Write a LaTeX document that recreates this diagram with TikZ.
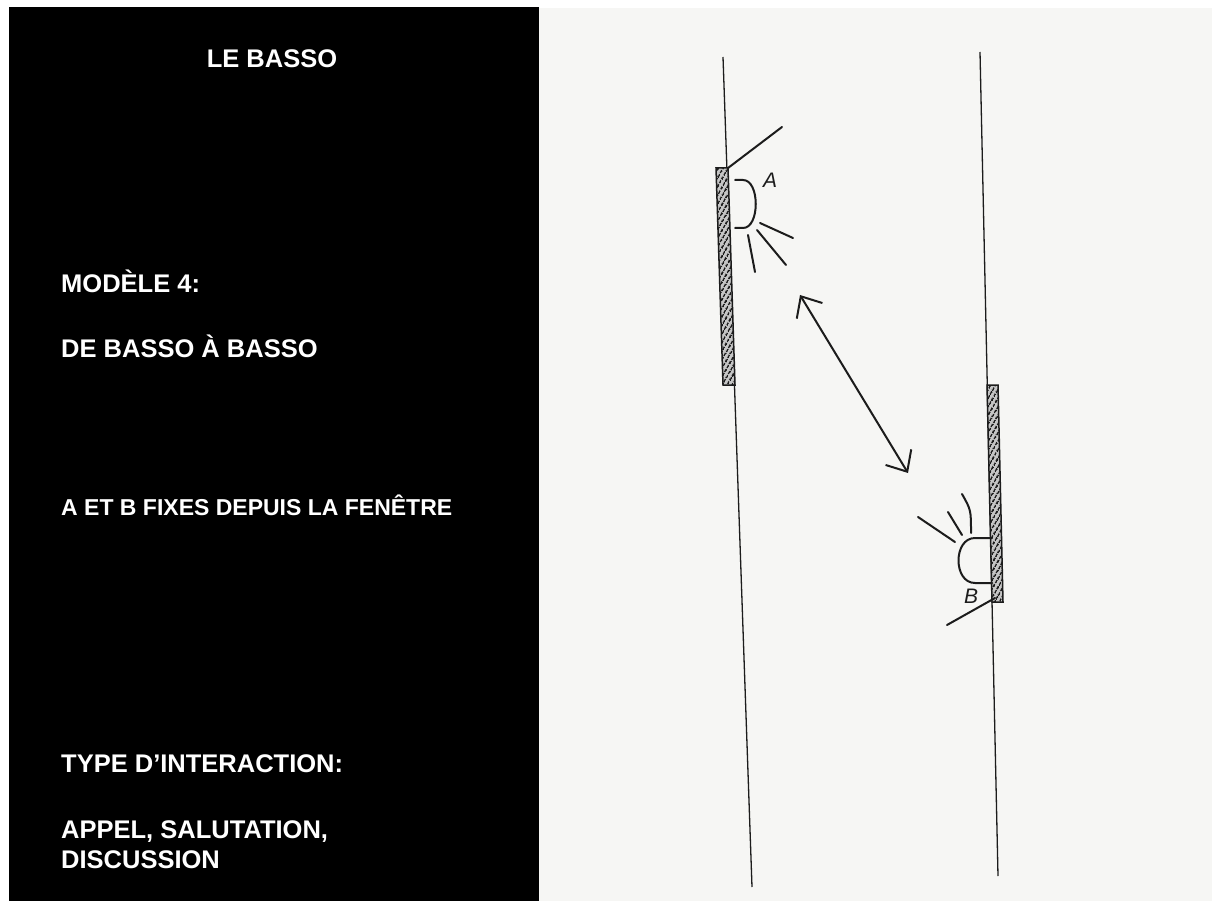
\documentclass[tikz,border=0pt]{standalone}
\usepackage{fontspec}
\setmainfont{Liberation Sans}
\usetikzlibrary{positioning, arrows.meta, patterns.meta}
\definecolor{paper}{RGB}{246,246,244}
\definecolor{ink}{RGB}{28,28,28}
\tikzset{
        panel text/.style={text=white, inner sep=0pt, font=\fontsize{25.5}{30}\selectfont\bfseries}, % white captions on the black panel
        wall/.style={ink, line width=1.3pt}, % the two facades
        pen/.style={ink, line width=2pt, line cap=round, line join=round}, % hand drawn strokes
        window/.style={ink, line width=1.5pt, preaction={fill=gray!45}, pattern={Lines[angle=60, distance=4pt, line width=2pt]}, pattern color=ink}, % hatched window sill
        hand label/.style={ink, inner sep=0pt, font=\fontsize{21}{21}\selectfont\itshape}, % letters A and B
        barb/.tip={Straight Barb[length=17pt, width=30pt]}, % open arrow head
    }
\begin{document}
\begin{tikzpicture}[x=1pt, y=-1pt]
    \useasboundingbox (0,0) rectangle (1215,901);
    \fill[black] (9,7) rectangle (539,901);
    \fill[paper] (539,8) rectangle (1212,901);

    % captions
    \node[panel text, anchor=base] (title) at (272,68) {LE BASSO};
    \node[panel text, anchor=base west] (model) at (61,292) {MODÈLE 4:};
    \node[panel text, below=65pt of model.base west, anchor=base west] (basso) {DE BASSO À BASSO};
    \node[panel text, below=158pt of basso.base west, anchor=base west, font=\fontsize{23}{28}\selectfont\bfseries] (fixed) {A ET B FIXES DEPUIS LA FENÊTRE};
    \node[panel text, below=257pt of fixed.base west, anchor=base west] (type) {TYPE D’INTERACTION:};
    \node[panel text, below=66pt of type.base west, anchor=base west] (appel) {APPEL, SALUTATION,};
    \node[panel text, below=30pt of appel.base west, anchor=base west] (disc) {DISCUSSION};

    % facades
    \coordinate (wallA top) at (723,57);
    \coordinate (wallA bot) at (752,887);
    \coordinate (wallB top) at (980,52);
    \coordinate (wallB bot) at (998,876);
    \draw[wall] (wallA top) -- (wallA bot);
    \draw[wall] (wallB top) -- (wallB bot);

    % windows
    \draw[window] (716,168) -- (728,168) -- (735,385) -- (723,385) -- cycle;
    \draw[window] (987,385) -- (998,385) -- (1003,602) -- (992,602) -- cycle;

    % person A
    \draw[pen] (728,168) -- (782,127);
    \draw[pen] (735,180) -- (743,180) .. controls (760,180) and (760,228) .. (743,228) -- (735,228);
    \draw[pen] (760,223) -- (793,238);
    \draw[pen] (757,230) -- (786,265);
    \draw[pen] (748,235) -- (755,272);
    \node[hand label] (labA) at (770,180) {A};

    % person B
    \draw[pen] (995,598) -- (947,625);
    \draw[pen] (992,538) -- (975,538) .. controls (953,538) and (953,583) .. (975,583) -- (992,583);
    \draw[pen] (955,542) -- (918,517);
    \draw[pen] (962,535) -- (948,512);
    \draw[pen] (971,533) .. controls (971,510) .. (962,494);
    \node[hand label] (labB) at (971,596) {B};

    % exchange
    \coordinate (talkA) at (800,295);
    \coordinate (talkB) at (908,473);
    \draw[pen, barb-barb] (talkA) -- (talkB);
\end{tikzpicture}
\end{document}
